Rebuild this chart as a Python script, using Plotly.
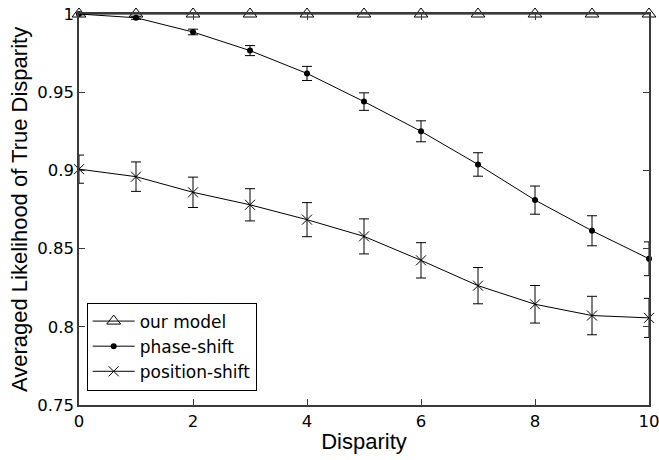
import plotly.graph_objects as go

disparity = [0, 1, 2, 3, 4, 5, 6, 7, 8, 9, 10]
our_model = [1.0] * 11
phase_shift = [1.0, 0.9976, 0.9885, 0.9766, 0.9620, 0.9440, 0.9250, 0.9038, 0.8810, 0.8614, 0.8435]
phase_err = [0.0005, 0.0010, 0.0018, 0.0032, 0.0045, 0.0056, 0.0067, 0.0075, 0.0090, 0.0096, 0.0108]
position_shift = [0.9008, 0.8960, 0.8860, 0.8780, 0.8685, 0.8578, 0.8425, 0.8263, 0.8144, 0.8072, 0.8057]
position_err = [0.0090, 0.0094, 0.0097, 0.0103, 0.0109, 0.0112, 0.0113, 0.0116, 0.0120, 0.0123, 0.0125]

FONT = "Liberation Sans, Arial, Helvetica, sans-serif"
FONT_W = "DejaVu Sans, Verdana, sans-serif"
AX = "#3a3a3a"

fig = go.Figure()
fig.add_trace(go.Scatter(
    x=disparity, y=our_model, name="our model", mode="lines+markers",
    line=dict(color="black", width=1),
    marker=dict(symbol="triangle-up-open", size=12, color="black", line=dict(width=1)),
    cliponaxis=False,
))
fig.add_trace(go.Scatter(
    x=disparity, y=phase_shift, name="phase-shift", mode="lines+markers",
    line=dict(color="black", width=1),
    marker=dict(symbol="circle", size=6, color="black"),
    error_y=dict(type="data", array=phase_err, color="black", thickness=1, width=5),
    cliponaxis=False,
))
fig.add_trace(go.Scatter(
    x=disparity, y=position_shift, name="position-shift", mode="lines+markers",
    line=dict(color="black", width=1),
    marker=dict(symbol="x-thin-open", size=10, color="black", line=dict(width=1, color="black")),
    error_y=dict(type="data", array=position_err, color="black", thickness=1, width=5),
    cliponaxis=False,
))

axis_common = dict(
    showgrid=False, zeroline=False, showline=True, linecolor=AX, linewidth=1.5,
    mirror="ticks", ticks="inside", ticklen=6, tickcolor=AX, tickwidth=1,
    tickfont=dict(family=FONT_W, size=16.5, color="black"), automargin=False,
    ticklabeloverflow="allow",
)

fig.update_layout(
    width=659, height=460,
    margin=dict(l=79, r=10, t=14, b=55),
    plot_bgcolor="white", paper_bgcolor="white",
    font=dict(family=FONT, color="black"),
    xaxis=dict(
        range=[0, 10], tickvals=[0, 2, 4, 6, 8, 10], ticktext=["0", "2", "4", "6", "8", "10"],
        title=dict(text="Disparity", font=dict(family=FONT, size=22), standoff=4),
        **axis_common,
    ),
    yaxis=dict(
        range=[0.75, 1.0], tickvals=[0.75, 0.8, 0.85, 0.9, 0.95, 1.0],
        ticktext=["0.75", "0.8", "0.85", "0.9", "0.95", "1"],
        title=dict(text="Averaged Likelihood of True Disparity", font=dict(family=FONT, size=22), standoff=4),
        **axis_common,
    ),
    legend=dict(
        x=0.0135, y=0.037, xanchor="left", yanchor="bottom",
        bgcolor="white", bordercolor="black", borderwidth=1,
        font=dict(family=FONT_W, size=17, color="black"),
        tracegroupgap=0, itemwidth=42,
    ),
    showlegend=True,
)

fig.write_html("out.html")
